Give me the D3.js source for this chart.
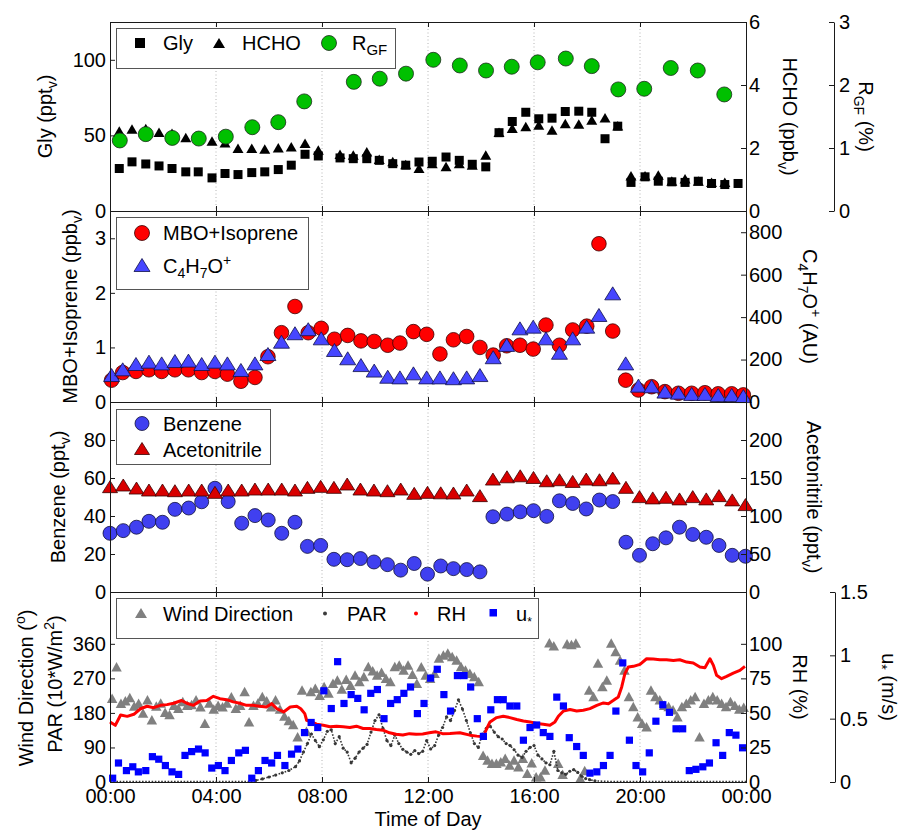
<!DOCTYPE html>
<html><head><meta charset="utf-8">
<script src="https://cdn.jsdelivr.net/npm/d3@7"></script>
<style>body{margin:0;background:#fff} text{font-family:"Liberation Sans",Arial,Helvetica,sans-serif;}</style>
</head><body><svg id="c" width="899" height="830"></svg>
<script>
// ---------------- DATA ----------------
// Panel 1: Glyoxal (pptv), HCHO (ppbv), R_GF (%)
const glyTime = [0.35,0.83,1.35,1.85,2.34,2.86,3.33,3.85,4.34,4.83,5.35,5.84,6.35,6.84,7.36,7.86,8.68,9.18,9.69,10.16,10.67,11.16,11.66,12.16,12.68,13.18,13.67,14.18,14.68,15.18,15.69,16.18,16.68,17.18,17.69,18.18,18.68,19.16,19.66,20.19,20.69,21.2,21.7,22.2,22.7,23.2,23.7];
const gly = [28.1,32.5,31.1,29.8,28.1,25.9,25.9,21.9,24.8,24.1,25.4,25.9,27.4,30.3,37.5,36.4,35.1,34.6,34.6,33.5,31.3,30.3,32.4,32.9,35.7,33.5,30.9,29.2,51.8,59.2,65.3,61.0,61.4,65.8,66.0,65.3,47.8,56.1,18.9,22.6,19.7,19.3,18.9,19.7,18.2,17.5,18.2];
const hcho = [2.54,2.60,2.62,2.50,2.47,2.33,2.33,2.22,2.17,1.99,1.99,1.97,2.01,2.04,2.15,1.94,1.80,1.78,1.88,1.64,1.57,1.48,1.36,1.51,1.41,1.51,1.46,1.78,2.50,2.63,2.68,2.73,2.57,2.78,2.76,2.89,2.96,2.71,1.12,1.12,1.14,0.95,1.02,0.95,0.91,0.91,null];
const rgfTime = [0.37,1.35,2.35,3.35,4.37,5.37,6.35,7.33,9.20,10.18,11.17,12.2,13.2,14.19,15.16,16.14,17.2,18.18,19.18,20.16,21.16,22.18,23.18];
const rgf = [1.12,1.22,1.16,1.15,1.18,1.33,1.41,1.74,2.05,2.10,2.18,2.40,2.31,2.23,2.29,2.36,2.42,2.30,1.93,1.94,2.27,2.23,1.85];

// Panel 2: MBO+Isoprene (ppbv), C4H7O+ (AU)
const vocTime = [0.06,0.48,0.98,1.47,1.95,2.45,2.96,3.46,3.96,4.43,4.94,5.47,5.96,6.47,6.98,7.48,7.97,8.47,8.97,9.47,9.97,10.48,10.94,11.45,11.95,12.45,12.96,13.46,13.96,14.46,14.97,15.47,15.97,16.45,16.96,17.46,17.99,18.45,18.97,19.46,19.94,20.44,20.94,21.45,21.95,22.45,22.95,23.46,23.9];
const mbo = [0.40,0.54,0.56,0.59,0.56,0.59,0.59,0.54,0.56,0.51,0.38,0.45,0.83,1.27,1.75,1.27,1.35,1.15,1.22,1.12,1.11,1.04,1.08,1.29,1.24,0.88,1.14,1.20,1.00,0.86,1.03,1.04,0.97,1.41,1.04,1.32,1.39,2.90,1.30,0.40,0.22,0.28,0.19,0.16,0.16,0.17,0.15,0.15,0.13];
const c4h7o = [127,154,179,190,182,193,195,179,190,182,151,182,226,284,324,343,300,245,206,174,148,119,116,135,116,116,112,116,127,211,269,347,355,300,232,300,355,410,512,182,77,74,49,44,38,38,33,33,28];

// Panel 3: Benzene (pptv), Acetonitrile (pptv)
const benzTime = [0.0,0.5,1.0,1.47,1.98,2.45,2.97,3.46,3.96,4.46,4.97,5.47,5.97,6.48,6.98,7.45,7.95,8.45,8.95,9.45,9.96,10.47,10.97,11.48,11.98,12.48,12.96,13.46,13.96,14.45,14.98,15.48,15.98,16.48,16.96,17.46,17.97,18.47,18.97,19.47,19.98,20.48,20.98,21.49,21.99,22.5,22.98,23.48,23.98];
const benzene = [30.9,32.3,34.1,37.2,36.7,43.5,44.2,47.5,54.6,47.6,36.2,40.2,37.9,30.9,36.7,24.0,24.5,17.2,17.0,17.6,15.8,14.4,11.5,15.0,9.4,13.7,12.3,11.8,10.6,39.6,41.0,42.2,42.8,39.8,48.0,46.6,43.7,48.4,47.6,26.2,19.3,25.4,28.5,34.1,30.3,28.8,24.5,19.3,18.8];
const acetonitrile = [138.6,140.8,136.8,134.2,134.2,133.3,134.2,134.2,131.1,134.2,134.2,135.5,135.5,135.5,134.2,137.7,139.0,137.7,142.1,135.5,134.2,133.3,135.5,129.8,131.1,130.5,130.3,134.2,126.8,148.6,151.6,152.9,150.7,146.4,147.7,145.5,148.6,147.7,149.9,137.7,125.5,123.8,124.6,122.5,125.5,122.5,126.8,121.2,115.0];

// Panel 4: wind direction (deg), 10-min values, one row per hour
const windDirByHour = [
 [218,300,205,212,220,198],[205,180,214,162,198,206],[182,176,200,192,210,200],[202,214,196,153,206,190],
 [200,196,206,222,192,200],[236,157,200,206,223,212],[196,214,190,172,160,150],[118,240,132,236,244,226],
 [249,232,257,266,242,268],[252,279,262,275,301,290],[279,286,270,262,301,305],[292,305,281,257,300,279],
 [270,283,323,331,336,327],[318,301,292,283,275,262],[70,57,49,49,53,62],[44,57,40,62,23,50],
 [14,14,31,363,355,49],[20,360,358,362,10,30],[240,223,310,249,266,362],[340,318,292,223,197,170],
 [153,144,240,223,214,200],[197,188,170,197,205,214],[223,118,205,214,223,214],[205,197,210,200,190,195]];
// PAR (10*W/m2)
const parTime = [0,0.5,1,1.5,2,2.5,3,3.5,4,4.5,5,5.25,5.5,5.75,6.0,6.25,6.5,6.75,7.0,7.15,7.3,7.45,7.6,7.75,7.9,8.05,8.2,8.35,8.5,8.65,8.8,8.95,9.1,9.25,9.4,9.55,9.7,9.85,10.0,10.15,10.3,10.45,10.6,10.75,10.9,11.05,11.2,11.35,11.5,11.65,11.8,11.95,12.1,12.25,12.4,12.55,12.7,12.85,13.0,13.15,13.3,13.45,13.6,13.75,13.9,14.05,14.2,14.35,14.5,14.65,14.8,14.95,15.1,15.25,15.4,15.55,15.7,15.85,16.0,16.15,16.3,16.45,16.6,16.75,16.9,17.05,17.2,17.35,17.5,17.65,17.8,17.95,18.1,18.3,18.6,19,19.5,20,20.5,21,21.5,22,22.5,23,23.5,24];
const par = [1,1,1,1,1,1,1,1,1,1,1,1,4,8,13,18,24,30,40,55,78,100,125,108,92,110,132,136,100,118,88,78,50,62,78,88,98,130,160,175,140,108,95,122,100,85,78,72,82,74,80,108,86,95,122,142,170,160,186,214,190,160,128,100,90,125,140,145,130,118,112,100,95,84,70,64,80,90,95,70,60,50,45,80,30,24,20,28,32,25,15,9,6,3,2,1,1,1,1,1,1,1,1,1,1,1];
// RH (%)
const rhTime = [0.0,0.2,0.4,0.65,0.9,1.15,1.4,1.65,1.9,2.15,2.4,2.7,2.9,3.15,3.4,3.65,3.9,4.15,4.4,4.65,4.9,5.15,5.4,5.65,5.9,6.1,6.3,6.55,6.8,7.05,7.2,7.35,7.42,7.6,7.8,8.05,8.3,8.55,8.8,9.05,9.3,9.55,9.8,10.05,10.3,10.55,10.8,11.05,11.3,11.55,11.8,12.05,12.3,12.55,12.83,13.2,13.58,13.84,14.09,14.2,14.34,14.59,14.84,15.09,15.35,15.6,15.85,16.1,16.35,16.6,16.79,16.92,17.11,17.36,17.61,17.86,18.11,18.37,18.62,18.81,19.0,19.18,19.31,19.43,19.56,19.75,20.0,20.25,20.5,20.75,21.0,21.26,21.5,21.76,22.01,22.26,22.45,22.64,22.77,22.89,23.08,23.27,23.52,23.77,23.96];
const rh = [43.5,41,48.5,47.5,49,53,54.8,53.8,55.5,56,57,59,57,55.5,58.7,59,62,60.3,59.6,58,57,55.5,55.5,54.8,54.3,56.7,53,50.7,54.3,54.8,53,49.5,44.7,43.5,41.8,41.1,40,40.4,40,39.4,40.4,38.7,38.7,38,37.5,35.6,34.6,34,35,34.6,34.8,35.6,36.3,35,35.1,35.6,33.9,33.2,32.7,38,43.5,46.6,47.6,46.6,45.2,44.2,43.5,42.3,41.8,41.1,43.5,47.6,51.4,52.4,51.4,51.9,53.1,55.5,57.2,56.7,59.1,61.5,68.8,78.4,83.2,83.7,85.1,89.2,89,88.5,88.5,88,88.5,86.8,86.1,83.2,82.7,89.2,84.4,77.2,74.8,76.4,78.8,80.8,83.7];
// u* (m/s)
const ustarTime = [0.10,0.32,0.62,0.86,1.07,1.35,1.60,1.84,2.09,2.34,2.59,2.83,3.08,3.34,3.59,3.84,4.09,4.34,4.58,4.86,5.11,5.35,5.60,5.85,6.10,6.32,6.60,6.85,7.09,7.34,7.59,7.84,8.07,8.35,8.59,8.83,9.10,9.35,9.59,9.84,10.09,10.34,10.59,10.84,11.09,11.34,11.60,11.85,12.10,12.35,12.60,12.85,13.11,13.36,13.61,13.86,14.09,14.37,14.62,14.84,15.09,15.35,15.60,15.85,16.10,16.35,16.60,16.86,17.11,17.33,17.61,17.86,18.11,18.37,18.62,18.87,19.09,19.35,19.60,19.85,20.10,20.35,20.60,20.86,21.11,21.36,21.61,21.86,22.11,22.37,22.62,22.87,23.12,23.37,23.62,23.87];
const ustar = [0.03,0.15,0.09,0.12,0.08,0.09,0.20,0.18,0.13,0.08,0.06,0.21,0.24,0.26,0.23,0.11,0.13,0.09,0.17,0.23,0.25,0.03,0.09,0.17,0.15,0.21,0.13,0.22,0.26,0.39,0.47,0.43,0.72,0.58,0.95,0.62,0.69,0.66,0.57,0.70,0.73,0.50,0.62,0.65,0.70,0.75,0.54,0.62,0.82,0.89,0.69,0.56,0.84,0.84,0.75,0.50,0.36,0.57,0.65,0.65,0.60,0.60,0.33,0.43,0.45,0.39,0.36,0.67,0.60,0.35,0.28,0.21,0.07,0.08,0.13,0.21,0.56,0.94,0.33,0.13,0.08,0.23,0.48,0.61,0.55,0.42,0.42,0.09,0.10,0.12,0.15,0.31,0.21,0.39,0.37,0.27];

// Tick values
const timeTicks = [0,4,8,12,16,20,24];
const glyTicks = [0,50,100], hchoTicks = [0,2,4,6], rgfTicks = [0,1,2,3];
const mboTicks = [0,1,2,3], c4Ticks = [0,200,400,600,800];
const benzTicks = [0,20,40,60,80], acnTicks = [0,50,100,150,200];
const wdTicks = [0,90,180,270,360], rhTicks = [0,25,50,75,100], ustarTicks = [0,0.5,1,1.5];

// ---------------- DRAWING ----------------
const svg = d3.select('#c');
svg.append('rect').attr('width',899).attr('height',830).attr('fill','#fff');
const FONT = '"Liberation Sans",Arial,Helvetica,sans-serif';
const L = 110, R = 746;
const x = d3.scaleLinear().domain([0,24]).range([L,R]);
const P = [{top:22,bottom:211},{top:211,bottom:402},{top:402,bottom:592},{top:592,bottom:782}];
const AX = '#1a1a1a';

function rich(t, parts){
  let shift = 0;
  parts.forEach(p=>{
    const ts = t.append('tspan').text(p.t);
    const target = p.s==='sub'?5:(p.s==='sup'?-8:0);
    if(target!==shift){ ts.attr('dy', target-shift); shift = target; }
    if(p.s) ts.attr('font-size', p.fs||14);
  });
  return t;
}
function label(xp, yp, rot, parts){
  const t = svg.append('text').attr('transform',`translate(${xp},${yp}) rotate(${rot})`)
    .attr('text-anchor','middle').attr('font-size',20).attr('fill','#000');
  return rich(t, parts);
}
function styleAxis(g){
  g.attr('font-size',20).attr('font-family',FONT);
  g.selectAll('text').attr('fill','#000');
  g.selectAll('line').attr('stroke',AX);
  g.selectAll('path.domain').attr('stroke',AX);
}
const tri = (w,h)=>`M0,${-h/2}L${w/2},${h/2}L${-w/2},${h/2}Z`;
const hourFmt = h => String(h%24).padStart(2,'0')+':00';

const gridG = svg.append('g');
P.forEach((p,i)=>{
  [4,8,12,16,20].forEach(h=>{
    gridG.append('line').attr('x1',x(h)).attr('x2',x(h)).attr('y1',p.top).attr('y2',p.bottom)
      .attr('stroke','#b4b4b4').attr('stroke-width',1).attr('stroke-dasharray','1,2.5');
  });
});

const dataG = svg.append('g');
const frameG = svg.append('g');
const legG = svg.append('g');

function frame(p, last){
  const gt = frameG.append('g').attr('transform',`translate(0,${p.top})`)
    .call(d3.axisTop(x).tickValues(timeTicks).tickSizeInner(-5).tickSizeOuter(0).tickFormat(''));
  gt.select('.domain').remove(); styleAxis(gt);
  const gb = frameG.append('g').attr('transform',`translate(0,${p.bottom})`)
    .call(d3.axisBottom(x).tickValues(timeTicks).tickSizeInner(-5).tickSizeOuter(0).tickPadding(7)
      .tickFormat(last?hourFmt:''));
  gb.select('.domain').remove(); styleAxis(gb);
  frameG.append('rect').attr('x',L+0.5).attr('y',p.top+0.5).attr('width',R-L).attr('height',p.bottom-p.top)
    .attr('fill','none').attr('stroke',AX).attr('stroke-width',1);
}
function leftAxis(scale, ticks, fmt){
  const g = frameG.append('g').attr('transform',`translate(${L},0)`)
    .call(d3.axisLeft(scale).tickValues(ticks).tickSizeInner(-5).tickSizeOuter(0).tickPadding(4).tickFormat(fmt||d3.format('')));
  g.select('.domain').remove(); styleAxis(g);
}
function rightAxis(scale, ticks, fmt){
  const g = frameG.append('g').attr('transform',`translate(${R},0)`)
    .call(d3.axisRight(scale).tickValues(ticks).tickSizeInner(-5).tickSizeOuter(0).tickPadding(3).tickFormat(fmt||d3.format('')));
  g.select('.domain').remove(); styleAxis(g);
}
function farAxis(xp, scale, ticks, fmt){
  const g = frameG.append('g').attr('transform',`translate(${xp},0)`)
    .call(d3.axisRight(scale).tickValues(ticks).tickSizeInner(-5).tickSizeOuter(0).tickPadding(5).tickFormat(fmt||d3.format('')));
  styleAxis(g);
}
function legendBox(x0,y0,w,h){
  legG.append('rect').attr('x',x0+0.5).attr('y',y0+0.5).attr('width',w).attr('height',h)
    .attr('fill','#fff').attr('stroke','#555').attr('stroke-width',1);
}
function ltext(xp, yp, parts){
  const t = legG.append('text').attr('x',xp).attr('y',yp).attr('font-size',20).attr('fill','#000');
  rich(t, parts);
}

// ===== Panel 1 =====
{
  const p = P[0];
  const yG = d3.scaleLinear().domain([0,125]).range([p.bottom,p.top]);
  const yH = d3.scaleLinear().domain([0,6]).range([p.bottom,p.top]);
  const yR = d3.scaleLinear().domain([0,3]).range([p.bottom,p.top]);
  const g = dataG.append('g');
  glyTime.forEach((t,i)=>{ if(hcho[i]!=null) g.append('path').attr('d',tri(11,9.5)).attr('transform',`translate(${x(t)},${yH(hcho[i])})`).attr('fill','#000'); });
  glyTime.forEach((t,i)=>{ g.append('rect').attr('x',x(t)-4.5).attr('y',yG(gly[i])-4.5).attr('width',9).attr('height',9).attr('fill','#000'); });
  rgfTime.forEach((t,i)=>{ g.append('circle').attr('cx',x(t)).attr('cy',yR(rgf[i])).attr('r',7.5).attr('fill','#00c000').attr('stroke','#1c2a1c').attr('stroke-width',0.8); });
  frame(p,false);
  leftAxis(yG, glyTicks); rightAxis(yH, hchoTicks); farAxis(834, yR, rgfTicks);
  label(52,116.5,-90,[{t:'Gly (ppt'},{t:'v',s:'sub'},{t:')'}]);
  label(783,116.5,90,[{t:'HCHO (ppb'},{t:'v',s:'sub'},{t:')'}]);
  label(859,116.5,90,[{t:'R'},{t:'GF',s:'sub'},{t:' (%)'}]);
  legendBox(116,28,279,40);
  legG.append('rect').attr('x',135).attr('y',38).attr('width',10).attr('height',10).attr('fill','#000');
  ltext(163,50,[{t:'Gly'}]);
  legG.append('path').attr('d',tri(12,10)).attr('transform','translate(219,43)').attr('fill','#000');
  ltext(242,50,[{t:'HCHO'}]);
  legG.append('circle').attr('cx',329).attr('cy',43).attr('r',7.5).attr('fill','#00c000').attr('stroke','#1c2a1c').attr('stroke-width',0.8);
  ltext(352,50,[{t:'R'},{t:'GF',s:'sub',fs:15}]);
}
// ===== Panel 2 =====
{
  const p = P[1];
  const yM = d3.scaleLinear().domain([0,3.5]).range([p.bottom,p.top]);
  const yC = d3.scaleLinear().domain([0,900]).range([p.bottom,p.top]);
  const g = dataG.append('g');
  vocTime.forEach((t,i)=>{ g.append('circle').attr('cx',x(t)).attr('cy',yM(mbo[i])).attr('r',7.3).attr('fill','#ff0000').attr('stroke','#3a0000').attr('stroke-width',0.8); });
  vocTime.forEach((t,i)=>{ g.append('path').attr('d',tri(16,13)).attr('transform',`translate(${x(t)},${yC(c4h7o[i])})`).attr('fill','#4646ff').attr('stroke','#10104a').attr('stroke-width',0.8); });
  frame(p,false);
  leftAxis(yM, mboTicks); rightAxis(yC, c4Ticks);
  label(77,306.5,-90,[{t:'MBO+Isoprene (ppb'},{t:'v',s:'sub'},{t:')'}]);
  label(803,306.5,90,[{t:'C'},{t:'4',s:'sub'},{t:'H'},{t:'7',s:'sub'},{t:'O'},{t:'+',s:'sup'},{t:' (AU)'}]);
  legendBox(116,217,192,72);
  legG.append('circle').attr('cx',142).attr('cy',233).attr('r',7.5).attr('fill','#ff0000').attr('stroke','#3a0000').attr('stroke-width',0.8);
  ltext(163,240,[{t:'MBO+Isoprene'}]);
  legG.append('path').attr('d',tri(16,13)).attr('transform','translate(142,265)').attr('fill','#4646ff').attr('stroke','#10104a').attr('stroke-width',0.8);
  ltext(163,273,[{t:'C'},{t:'4',s:'sub'},{t:'H'},{t:'7',s:'sub'},{t:'O'},{t:'+',s:'sup'}]);
}
// ===== Panel 3 =====
{
  const p = P[2];
  const yB = d3.scaleLinear().domain([0,100]).range([p.bottom,p.top]);
  const yA = d3.scaleLinear().domain([0,250]).range([p.bottom,p.top]);
  const g = dataG.append('g');
  benzTime.forEach((t,i)=>{ g.append('circle').attr('cx',x(t)).attr('cy',yB(benzene[i])).attr('r',7).attr('fill','#4040f0').attr('stroke','#10103a').attr('stroke-width',0.8); });
  benzTime.forEach((t,i)=>{ g.append('path').attr('d',tri(15,12)).attr('transform',`translate(${x(t)},${yA(acetonitrile[i])})`).attr('fill','#d80000').attr('stroke','#3a0000').attr('stroke-width',0.8); });
  frame(p,false);
  leftAxis(yB, benzTicks); rightAxis(yA, acnTicks);
  label(65,497,-90,[{t:'Benzene (ppt'},{t:'v',s:'sub'},{t:')'}]);
  label(807,497,90,[{t:'Acetonitrile (ppt'},{t:'v',s:'sub'},{t:')'}]);
  legendBox(116,409,154,55);
  legG.append('circle').attr('cx',142).attr('cy',423.5).attr('r',7).attr('fill','#4040f0').attr('stroke','#10103a').attr('stroke-width',0.8);
  ltext(163,431,[{t:'Benzene'}]);
  legG.append('path').attr('d',tri(15,12)).attr('transform','translate(142,448.5)').attr('fill','#d80000').attr('stroke','#3a0000').attr('stroke-width',0.8);
  ltext(163,456.5,[{t:'Acetonitrile'}]);
}
// ===== Panel 4 =====
{
  const p = P[3];
  const yW = d3.scaleLinear().domain([0,495]).range([p.bottom,p.top]);
  const yRH = d3.scaleLinear().domain([0,137.5]).range([p.bottom,p.top]);
  const yU = d3.scaleLinear().domain([0,1.5]).range([p.bottom,p.top]);
  const g = dataG.append('g');
  windDirByHour.forEach((row,h)=>row.forEach((v,j)=>{
    g.append('path').attr('d',tri(10.5,9.5)).attr('transform',`translate(${x(h+j/6+0.08)},${yW(v)})`).attr('fill','#808080');
  }));
  const parPts = parTime.map((t,i)=>[t,par[i]]);
  g.append('path').attr('d',d3.line().x(d=>x(d[0])).y(d=>yW(d[1]))(parPts))
    .attr('fill','none').attr('stroke','#383838').attr('stroke-width',1.6).attr('stroke-dasharray','1.6,1.6');
  parPts.forEach(d=>{ if(d[1]>2) g.append('circle').attr('cx',x(d[0])).attr('cy',yW(d[1])).attr('r',1.6).attr('fill','#383838'); });
  const rhPts = rhTime.map((t,i)=>[t,rh[i]]);
  g.append('path').attr('d',d3.line().x(d=>x(d[0])).y(d=>yRH(d[1]))(rhPts))
    .attr('fill','none').attr('stroke','#ff0000').attr('stroke-width',3).attr('stroke-linejoin','round');
  ustarTime.forEach((t,i)=>{ g.append('rect').attr('x',x(t)-3.6).attr('y',yU(ustar[i])-3.6).attr('width',7.2).attr('height',7.2).attr('fill','#0000ff'); });
  frame(p,true);
  leftAxis(yW, wdTicks); rightAxis(yRH, rhTicks); farAxis(835, yU, ustarTicks, d3.format('~g'));
  label(33,688,-90,[{t:'Wind Direction ('},{t:'o',s:'sup'},{t:')'}]);
  label(62,684,-90,[{t:'PAR (10*W/m'},{t:'2',s:'sup'},{t:')'}]);
  label(793,687,90,[{t:'RH (%)'}]);
  label(882,687,90,[{t:'u'},{t:'*',s:'sub'},{t:' (m/s)'}]);
  svg.append('text').attr('x',428).attr('y',826).attr('text-anchor','middle').attr('font-size',20).text('Time of Day');
  legendBox(116,598,422,40);
  legG.append('path').attr('d',tri(12,10)).attr('transform','translate(141,613)').attr('fill','#808080');
  ltext(163,621,[{t:'Wind Direction'}]);
  legG.append('circle').attr('cx',325).attr('cy',613.5).attr('r',2).attr('fill','#3c3c3c');
  ltext(347,621,[{t:'PAR'}]);
  legG.append('circle').attr('cx',416).attr('cy',613.5).attr('r',2).attr('fill','#ff0000');
  ltext(437,621,[{t:'RH'}]);
  legG.append('rect').attr('x',489.5).attr('y',609).attr('width',7.5).attr('height',7.5).attr('fill','#0000ff');
  ltext(516,621,[{t:'u'},{t:'*',s:'sub',fs:12}]);
}
</script></body></html>
